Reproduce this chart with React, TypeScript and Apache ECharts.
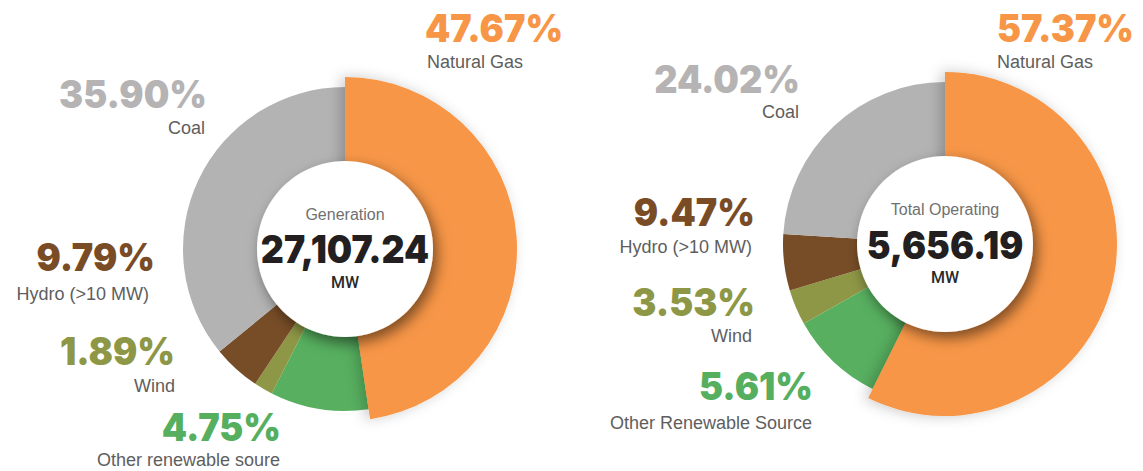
import React, { useEffect, useRef } from "react";
import * as echarts from "echarts";

// Ring slices, clockwise from 12 o'clock, sized as drawn in the picture
const ringOrder = ["Natural Gas", "Other renewable", "Wind", "Hydro (>10 MW)", "Coal"];
const ringColors = ["#F79646", "#57AF5F", "#8D9745", "#774D27", "#B4B3B3"];
const leftRingValues = [47.67, 9.79, 1.89, 4.75, 35.9];
const rightRingValues = [57.37, 9.47, 3.53, 5.61, 24.02];

// Printed labels
const leftCategories = ["Natural Gas", "Coal", "Hydro (>10 MW)", "Wind", "Other renewable soure"];
const rightCategories = ["Natural Gas", "Coal", "Hydro (>10 MW)", "Wind", "Other Renewable Source"];
const leftShares = [47.67, 35.9, 9.79, 1.89, 4.75];
const rightShares = [57.37, 24.02, 9.47, 3.53, 5.61];
const labelColors = ["#F79646", "#B5B3B3", "#7A4C26", "#8D9745", "#55AF5E"];

const leftCenterTexts = ["Generation", "27,107.24", "MW"];
const rightCenterTexts = ["Total Operating", "5,656.19", "MW"];

// Layout (positions only)
type LabelPos = { vx: number; nx: number; align: "left" | "right"; vy: number; ny: number };
const leftLayout = {
  cx: 345,
  cy: 249,
  centerY: [214, 249, 282],
  labels: [
    { vx: 425, nx: 427, align: "left", vy: 28, ny: 62 },
    { vx: 207, nx: 205, align: "right", vy: 94, ny: 128 },
    { vx: 155, nx: 149, align: "right", vy: 257, ny: 294 },
    { vx: 175, nx: 175, align: "right", vy: 351, ny: 386 },
    { vx: 281, nx: 280, align: "right", vy: 427, ny: 460 },
  ] as LabelPos[],
};
const rightLayout = {
  cx: 945,
  cy: 244,
  centerY: [209, 245, 277],
  labels: [
    { vx: 997, nx: 997, align: "left", vy: 28, ny: 62 },
    { vx: 800, nx: 799, align: "right", vy: 79, ny: 112 },
    { vx: 755, nx: 752, align: "right", vy: 212, ny: 247 },
    { vx: 755, nx: 752, align: "right", vy: 302, ny: 336 },
    { vx: 813, nx: 812, align: "right", vy: 386, ny: 423 },
  ] as LabelPos[],
};

const R_IN = 70;
const R_OUT = 162;
const R_GAS = 172;
const R_CENTER = 88;

const PCT_FONT = "Inter";
const NAME_FONT = "Liberation Sans";

function donutSeries(values: number[], cx: number, cy: number) {
  const base = {
    type: "pie",
    center: [cx, cy],
    startAngle: 90,
    clockwise: true,
    silent: true,
    label: { show: false },
    labelLine: { show: false },
    emphasis: { disabled: true },
  };
  return [
    {
      ...base,
      z: 1,
      radius: [R_IN, R_OUT],
      data: values.map((v, i) => ({
        value: v,
        name: ringOrder[i],
        itemStyle: { color: ringColors[i], borderWidth: 0 },
      })),
    },
    {
      ...base,
      z: 2,
      radius: [R_IN, R_GAS],
      data: values.map((v, i) => ({
        value: v,
        name: ringOrder[i],
        itemStyle:
          i === 0
            ? {
                color: ringColors[0],
                borderWidth: 0,
                shadowBlur: 14,
                shadowColor: "rgba(0,0,0,0.22)",
                shadowOffsetX: -4,
              }
            : { color: "rgba(0,0,0,0)", borderWidth: 0 },
      })),
    },
    {
      ...base,
      z: 3,
      radius: [0, R_CENTER],
      data: [
        {
          value: 1,
          name: "center",
          itemStyle: {
            color: "#ffffff",
            borderWidth: 0,
            shadowBlur: 14,
            shadowColor: "rgba(0,0,0,0.5)",
            shadowOffsetX: 4,
            shadowOffsetY: 6,
          },
        },
      ],
    },
  ];
}

function labelGraphics(
  cats: string[],
  shares: number[],
  layout: { cx: number; cy: number; centerY: number[]; labels: LabelPos[] },
  centerTexts: string[]
) {
  const els: any[] = [];
  cats.forEach((c, i) => {
    const p = layout.labels[i];
    els.push({
      type: "text",
      x: p.vx,
      y: p.vy,
      scaleX: 0.95,
      z: 10,
      style: {
        text: shares[i].toFixed(2) + "%",
        fill: labelColors[i],
        fontFamily: PCT_FONT,
        fontWeight: 900,
        fontSize: 38,
        align: p.align,
        verticalAlign: "middle",
      },
    });
    els.push({
      type: "text",
      x: p.nx,
      y: p.ny,
      z: 10,
      style: {
        text: c,
        fill: "#5e5e5e",
        fontFamily: NAME_FONT,
        fontSize: 18,
        align: p.align,
        verticalAlign: "middle",
      },
    });
  });
  els.push({
    type: "text",
    x: layout.cx,
    y: layout.centerY[0],
    z: 10,
    style: {
      text: centerTexts[0],
      fill: "#707070",
      fontFamily: NAME_FONT,
      fontSize: 16,
      align: "center",
      verticalAlign: "middle",
    },
  });
  els.push({
    type: "text",
    x: layout.cx,
    y: layout.centerY[1],
    scaleX: 0.94,
    z: 10,
    style: {
      text: centerTexts[1],
      fill: "#231F20",
      fontFamily: PCT_FONT,
      fontWeight: 900,
      fontSize: 38,
      align: "center",
      verticalAlign: "middle",
    },
  });
  els.push({
    type: "text",
    x: layout.cx,
    y: layout.centerY[2],
    z: 10,
    style: {
      text: centerTexts[2],
      fill: "#2a2a2a",
      fontFamily: "Roboto",
      fontWeight: 500,
      fontSize: 16,
      align: "center",
      verticalAlign: "middle",
    },
  });
  return els;
}

export default function App() {
  const ref = useRef<HTMLDivElement>(null);
  useEffect(() => {
    if (!ref.current) return;
    const chart = echarts.init(ref.current, undefined, { renderer: "svg" });
    chart.setOption({
      animation: false,
      backgroundColor: "#ffffff",
      series: [
        ...donutSeries(leftRingValues, leftLayout.cx, leftLayout.cy),
        ...donutSeries(rightRingValues, rightLayout.cx, rightLayout.cy),
      ],
      graphic: [
        ...labelGraphics(leftCategories, leftShares, leftLayout, leftCenterTexts),
        ...labelGraphics(rightCategories, rightShares, rightLayout, rightCenterTexts),
      ],
    });
    return () => chart.dispose();
  }, []);
  return (
    <div
      ref={ref}
      style={{ position: "fixed", left: 0, top: 0, width: 1143, height: 471, background: "#fff" }}
    />
  );
}
